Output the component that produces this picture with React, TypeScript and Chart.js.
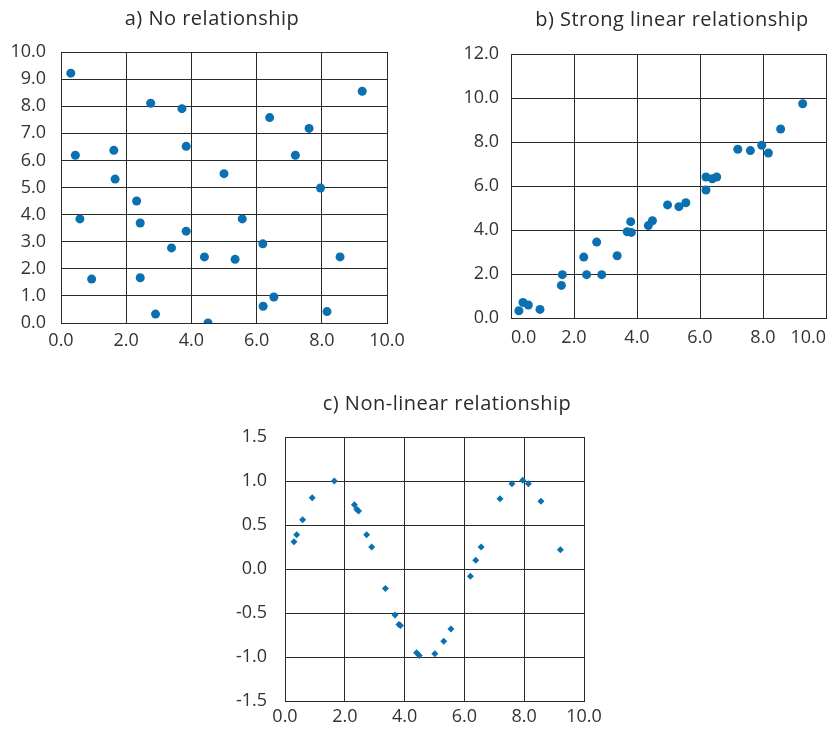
import React, { useEffect, useRef } from "react";
import { Chart, registerables } from "chart.js";

Chart.register(...registerables);

// Chart a) No relationship
const aX = [0.30, 0.44, 0.58, 0.94, 1.62, 1.66, 2.32, 2.43, 2.43, 2.75, 2.90, 3.39, 3.71, 3.84, 3.84, 4.40, 4.51, 5.00, 5.34, 5.56, 6.19, 6.20, 6.40, 6.53, 7.19, 7.61, 7.96, 8.16, 8.56, 9.24];
const aY = [9.22, 6.19, 3.84, 1.62, 6.37, 5.31, 4.50, 3.69, 1.67, 8.11, 0.33, 2.77, 7.91, 6.52, 3.39, 2.44, 0.00, 5.51, 2.35, 3.84, 2.92, 0.62, 7.58, 0.96, 6.19, 7.18, 4.98, 0.42, 2.44, 8.55];

// Chart b) Strong linear relationship
const bX = [0.25, 0.38, 0.55, 0.92, 1.60, 1.63, 2.31, 2.40, 2.72, 2.88, 3.37, 3.69, 3.82, 3.80, 4.36, 4.49, 4.97, 5.33, 5.55, 6.19, 6.19, 6.39, 6.53, 7.20, 7.60, 7.96, 8.17, 8.56, 9.26];
const bY = [0.33, 0.71, 0.59, 0.39, 1.48, 1.97, 2.77, 1.97, 3.45, 1.97, 2.83, 3.92, 3.89, 4.38, 4.20, 4.42, 5.14, 5.06, 5.24, 5.82, 6.41, 6.33, 6.41, 7.67, 7.61, 7.85, 7.50, 8.59, 9.74];

// Chart c) Non-linear relationship
const cX = [0.30, 0.39, 0.59, 0.91, 1.65, 2.32, 2.40, 2.46, 2.73, 2.90, 3.36, 3.68, 3.81, 3.86, 4.40, 4.49, 5.01, 5.31, 5.55, 6.20, 6.38, 6.56, 7.19, 7.59, 7.95, 8.14, 8.56, 9.21];
const cY = [0.31, 0.39, 0.56, 0.81, 1.00, 0.73, 0.68, 0.66, 0.39, 0.25, -0.22, -0.52, -0.63, -0.64, -0.95, -0.98, -0.96, -0.82, -0.68, -0.08, 0.10, 0.25, 0.80, 0.97, 1.01, 0.97, 0.77, 0.22];

const titles = ["a) No relationship", "b) Strong linear relationship", "c) Non-linear relationship"];

const DOT = "#0a70b0";
const GRID = "#2a2a2a";
const TICK = "#333333";
const FONT = "'Open Sans', 'Noto Sans', sans-serif";
const TICK_SIZE = 18;

type Cfg = {
  xs: number[];
  ys: number[];
  yMin: number;
  yMax: number;
  yStep: number;
  yAxisW: number;
  yPad: number;
  xAxisH: number;
  xPad: number;
  top: number;
  right: number;
  xAlign: "center" | "inner";
  pointStyle: string;
  radius: number;
};

function ScatterPanel({ cfg, w, h }: { cfg: Cfg; w: number; h: number }) {
  const ref = useRef<HTMLCanvasElement | null>(null);
  useEffect(() => {
    if (!ref.current) return;
    const pts = cfg.xs.map((x, i) => ({ x, y: cfg.ys[i] }));
    const chart = new Chart(ref.current, {
      type: "scatter",
      data: {
        datasets: [
          {
            data: pts,
            backgroundColor: DOT,
            borderColor: DOT,
            borderWidth: 0,
            pointStyle: cfg.pointStyle as any,
            pointRadius: cfg.radius,
          },
        ],
      },
      options: {
        animation: false,
        responsive: false,
        devicePixelRatio: 1,
        layout: { padding: { top: cfg.top, right: cfg.right, left: 0, bottom: 0 } },
        plugins: { legend: { display: false }, tooltip: { enabled: false }, title: { display: false } },
        scales: {
          x: {
            type: "linear",
            min: 0,
            max: 10,
            ticks: {
              stepSize: 2,
              color: TICK,
              font: { family: FONT, size: TICK_SIZE },
              padding: cfg.xPad,
              align: cfg.xAlign as any,
              maxRotation: 0,
              callback: (v: any) => Number(v).toFixed(1),
            },
            grid: { color: GRID, lineWidth: 1, drawTicks: false },
            border: { color: GRID, width: 1 },
            afterFit: (axis: any) => {
              axis.height = cfg.xAxisH;
              axis.paddingLeft = 0;
              axis.paddingRight = 0;
            },
          },
          y: {
            type: "linear",
            min: cfg.yMin,
            max: cfg.yMax,
            ticks: {
              stepSize: cfg.yStep,
              color: TICK,
              font: { family: FONT, size: TICK_SIZE },
              padding: cfg.yPad,
              callback: (v: any) => Number(v).toFixed(1),
            },
            grid: { color: GRID, lineWidth: 1, drawTicks: false },
            border: { color: GRID, width: 1 },
            afterFit: (axis: any) => {
              axis.width = cfg.yAxisW;
            },
          },
        },
      },
    });
    return () => chart.destroy();
  }, []);
  return <canvas ref={ref} width={w} height={h} style={{ width: w, height: h, display: "block" }} />;
}

const titleStyle: React.CSSProperties = {
  position: "absolute",
  transform: "translateX(-50%)",
  whiteSpace: "nowrap",
  fontFamily: FONT,
  fontSize: 20,
  letterSpacing: "0.5px",
  color: "#2a2a2a",
  lineHeight: "22px",
};

export default function App() {
  const cfgA: Cfg = { xs: aX, ys: aY, yMin: 0, yMax: 10, yStep: 1, yAxisW: 61, yPad: 15, xAxisH: 37, xPad: 7, top: 52, right: 33, xAlign: "center", pointStyle: "circle", radius: 4.5 };
  const cfgB: Cfg = { xs: bX, ys: bY, yMin: 0, yMax: 12, yStep: 2, yAxisW: 91, yPad: 12, xAxisH: 42, xPad: 9, top: 54, right: 10, xAlign: "inner", pointStyle: "circle", radius: 4.5 };
  const cfgC: Cfg = { xs: cX, ys: cY, yMin: -1.5, yMax: 1.5, yStep: 0.5, yAxisW: 65, yPad: 18, xAxisH: 27, xPad: 5, top: 67, right: 36, xAlign: "center", pointStyle: "rectRot", radius: 3.5 };
  return (
    <div style={{ position: "relative", width: 836, height: 730, margin: -8, background: "#fff", overflow: "hidden" }}>
      <div style={{ position: "absolute", left: 0, top: 0 }}>
        <ScatterPanel cfg={cfgA} w={420} h={360} />
      </div>
      <div style={{ position: "absolute", left: 420, top: 0 }}>
        <ScatterPanel cfg={cfgB} w={416} h={360} />
      </div>
      <div style={{ position: "absolute", left: 220, top: 370 }}>
        <ScatterPanel cfg={cfgC} w={400} h={360} />
      </div>
      <div style={{ ...titleStyle, left: 212, top: 7 }}>{titles[0]}</div>
      <div style={{ ...titleStyle, left: 672, top: 8 }}>{titles[1]}</div>
      <div style={{ ...titleStyle, left: 447, top: 392 }}>{titles[2]}</div>
    </div>
  );
}
